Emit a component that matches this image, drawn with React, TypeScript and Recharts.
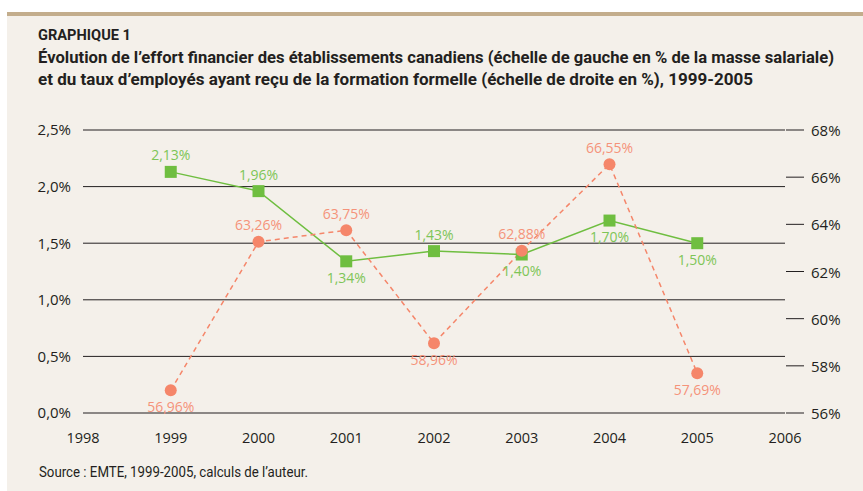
import { LineChart, Line, XAxis, YAxis, CartesianGrid, LabelList } from 'recharts'

const years = [1999, 2000, 2001, 2002, 2003, 2004, 2005]
// effort financier, % de la masse salariale (échelle de gauche)
const effort = [2.13, 1.96, 1.34, 1.43, 1.4, 1.7, 1.5]
// taux d'employés ayant reçu de la formation formelle, % (échelle de droite)
const formation = [56.96, 63.26, 63.75, 58.96, 62.88, 66.55, 57.69]
// label above or below each point
const effortSide = ['up', 'up', 'down', 'up', 'down', 'down', 'down']
const formationSide = ['down', 'up', 'up', 'down', 'up', 'up', 'down']

const xTicks = [1998, 1999, 2000, 2001, 2002, 2003, 2004, 2005, 2006]
const leftTicks = [0, 0.5, 1, 1.5, 2, 2.5]
const rightTicks = [56, 58, 60, 62, 64, 66, 68]

const data = years.map((year, i) => ({ year, effort: effort[i], formation: formation[i] }))

const INK = '#231f20'
const GREEN = '#6fbe40'
const GREEN_TXT = '#7ec557'
const ORANGE = '#f5866a'
const ORANGE_TXT = '#f5937a'
const FONT = '"Open Sans", sans-serif'
const HEAD = 'Roboto, "Open Sans", sans-serif'

const pct2 = (v: number) => v.toFixed(2).replace('.', ',') + '%'

const makeLabel = (sides: string[], color: string) => (props: any) => {
  const { x, y, value, index } = props
  const dy = sides[index] === 'up' ? -17 : 16
  return (
    <text
      x={x}
      y={y + dy}
      textAnchor="middle"
      dominantBaseline="central"
      fill={color}
      fontSize={14}
      fontFamily={FONT}
    >
      {pct2(value)}
    </text>
  )
}

const SquareDot = (p: any) => (
  <rect key={'s' + p.index} x={p.cx - 6} y={p.cy - 6} width={12} height={12} fill={GREEN} />
)
const RoundDot = (p: any) => <circle key={'c' + p.index} cx={p.cx} cy={p.cy} r={6} fill={ORANGE} />

const RightTick = ({ x, y, payload }: any) => (
  <g>
    <line x1={x + 1} x2={x + 19} y1={y} y2={y} stroke={INK} strokeWidth={1} />
    <text x={x + 26} y={y} dominantBaseline="central" fill={INK} fontSize={15} fontFamily={FONT}>
      {payload.value}%
    </text>
  </g>
)

export default function App() {
  return (
    <div style={{ position: 'absolute', left: 0, top: 0, width: 863, height: 491, background: '#fff' }}>
      <div
        style={{
          position: 'absolute',
          left: 7,
          top: 12,
          width: 856,
          height: 479,
          background: '#f4f0ea',
          borderTop: '4px solid #c3ad8c',
          boxSizing: 'border-box',
        }}
      />
      <svg width={863} height={491} style={{ position: 'absolute', left: 0, top: 0 }}>
        <g fill={INK} fontFamily={HEAD}>
          <text x={38} y={40} fontSize={14} fontWeight={700} textLength={93} lengthAdjust="spacingAndGlyphs">
            GRAPHIQUE 1
          </text>
          <text x={38} y={63} fontSize={17} fontWeight={700} textLength={796} lengthAdjust="spacingAndGlyphs">
            Évolution de l’effort financier des établissements canadiens (échelle de gauche en % de la masse salariale)
          </text>
          <text x={38} y={85} fontSize={17} fontWeight={700} textLength={715} lengthAdjust="spacingAndGlyphs">
            et du taux d’employés ayant reçu de la formation formelle (échelle de droite en %), 1999-2005
          </text>
          <text x={39} y={477} fontSize={14} textLength={269} lengthAdjust="spacingAndGlyphs">
            Source : EMTE, 1999-2005, calculs de l’auteur.
          </text>
        </g>
      </svg>
      <div style={{ position: 'absolute', left: 0, top: 0 }}>
        <LineChart width={863} height={491} data={data} margin={{ top: 130, right: 8, bottom: 48, left: 0 }}>
          <CartesianGrid yAxisId="left" vertical={false} stroke={INK} strokeWidth={1} />
          <XAxis
            dataKey="year"
            type="number"
            domain={[1998, 2006]}
            ticks={xTicks}
            axisLine={false}
            tickLine={false}
            tickSize={0}
            tickMargin={20}
            height={30}
            tick={{ fill: INK, fontSize: 14.5, fontFamily: FONT }}
          />
          <YAxis
            yAxisId="left"
            domain={[0, 2.5]}
            ticks={leftTicks}
            width={83}
            axisLine={false}
            tickLine={false}
            tickSize={0}
            tickMargin={12}
            tickFormatter={(v: number) => v.toFixed(1).replace('.', ',') + '%'}
            tick={{ fill: INK, fontSize: 15, fontFamily: FONT }}
          />
          <YAxis
            yAxisId="right"
            orientation="right"
            domain={[56, 68]}
            ticks={rightTicks}
            width={70}
            axisLine={false}
            tickLine={false}
            tickSize={0}
            tickMargin={0}
            tick={<RightTick />}
          />
          <Line
            yAxisId="left"
            dataKey="effort"
            stroke={GREEN}
            strokeWidth={1.5}
            dot={SquareDot}
            activeDot={false}
            isAnimationActive={false}
          >
            <LabelList dataKey="effort" content={makeLabel(effortSide, GREEN_TXT)} />
          </Line>
          <Line
            yAxisId="right"
            dataKey="formation"
            stroke={ORANGE}
            strokeWidth={1.5}
            strokeDasharray="5 4"
            dot={RoundDot}
            activeDot={false}
            isAnimationActive={false}
          >
            <LabelList dataKey="formation" content={makeLabel(formationSide, ORANGE_TXT)} />
          </Line>
        </LineChart>
      </div>
    </div>
  )
}
